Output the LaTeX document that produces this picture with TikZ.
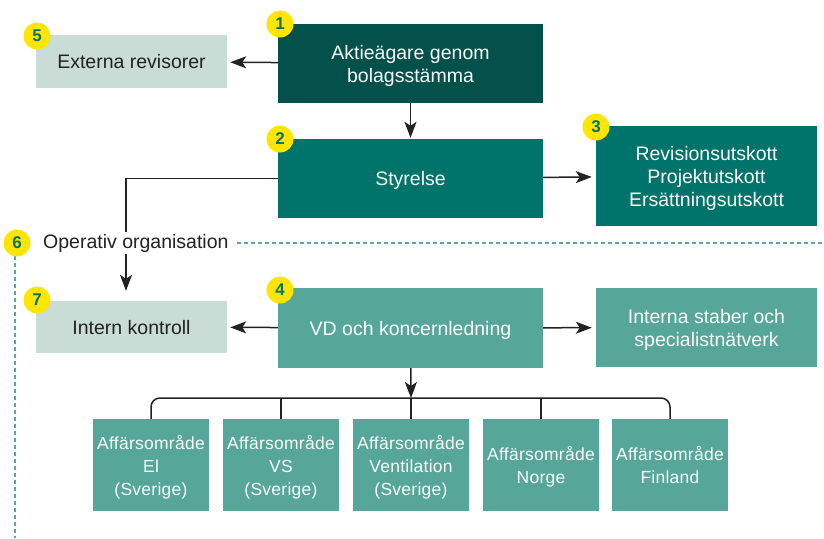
\documentclass[tikz,border=0pt]{standalone}
\usepackage{fontspec}
\setmainfont{Liberation Sans}
\usetikzlibrary{arrows.meta,positioning}
\definecolor{darkgreen}{HTML}{03514A}
\definecolor{midgreen}{HTML}{00736A}
\definecolor{lightgreen}{HTML}{56A69A}
\definecolor{palegreen}{HTML}{C9DDD6}
\definecolor{badgeyellow}{HTML}{FFE500}
\definecolor{dashteal}{HTML}{5AA89C}
\definecolor{inktext}{HTML}{222222}
\colorlet{boxtext}{white!92!palegreen}
\def\bigfont{\fontsize{19.5}{23}\selectfont}
\def\smallfont{\fontsize{17.5}{23}\selectfont\addfontfeature{LetterSpace=1.5}}
\tikzset{box/.style={rectangle, inner sep=0pt, align=center, text=boxtext, font=\bigfont, text depth=-2pt},
	pale/.style={box, fill=palegreen, text=inktext, minimum width=191pt, minimum height=53pt},
	area/.style={box, fill=lightgreen, font=\smallfont, minimum width=116pt, minimum height=92pt},
	badge/.style={circle, fill=badgeyellow, text=midgreen, inner sep=0pt, minimum size=27pt,
		font=\fontsize{17}{17}\selectfont\bfseries},
	link/.style={draw=inktext, line width=1.5pt, -{Stealth[length=16pt, width=12pt, inset=4pt]}},
	bus/.style={draw=inktext, line width=1.5pt},
	border/.style={draw=dashteal, line width=1.3pt, dash pattern=on 4pt off 3pt}}

\begin{document}
\begin{tikzpicture}[x=1pt, y=-1pt]
		\useasboundingbox (0,0) rectangle (824,538);
		% top level
		\node[pale] (ext) at (131.5,61.5) {Externa revisorer};
		\node[box, fill=darkgreen, minimum width=265pt, minimum height=79pt] (aktie) at (410.5,63.5) {Aktieägare genom\\bolagsstämma};
		\node[box, fill=midgreen, minimum width=265pt, minimum height=79pt] (styr) at (410.5,178.5) {Styrelse};
		\node[box, fill=midgreen, minimum width=221pt, minimum height=100pt] (utsk) at (706.5,176) {Revisionsutskott\\Projektutskott\\Ersättningsutskott};
		
		% operative level
		\node[pale, minimum height=52pt] (intern) at (131.5,327) {Intern kontroll};
		\node[box, fill=lightgreen, minimum width=265pt, minimum height=80pt] (vd) at (410.5,328) {VD och koncernledning};
		\node[box, fill=lightgreen, minimum width=221pt, minimum height=79pt] (stab) at (706.5,327.5) {Interna staber och\\specialistnätverk};
		
		\node[area] (el) at (151,465) {Affärsområde\\El\\(Sverige)};
		\node[area] (vs) at (281,465) {Affärsområde\\VS\\(Sverige)};
		\node[area] (vent) at (411,465) {Affärsområde\\Ventilation\\(Sverige)};
		\node[area] (norge) at (541,465) {Affärsområde\\Norge};
		\node[area] (fin) at (670,465) {Affärsområde\\Finland};
		\coordinate (fork) at (411,398);
		
		% connectors
		\draw[link, shorten >=3pt] (aktie) -- (ext);
		\draw[link, shorten >=1pt] (aktie) -- (styr);
		\draw[link, shorten >=4pt] (styr) -- (utsk);
		\draw[link, shorten >=10pt] (styr.west) -| ([xshift=-5.5pt]intern.north);
		\draw[link, shorten >=3pt] (vd) -- (intern);
		\draw[link, shorten >=4pt] (vd) -- (stab);
		\draw[link] (vd) -- (fork);
		\draw[bus, rounded corners=9pt] (el.north) -- (el.north |- fork) -- (fin.north |- fork) -- (fin.north);
		\foreach \n in {vs,vent,norge}
			\draw[bus] (\n.north) -- (\n.north |- fork);
		
		% operative boundary
		\node[fill=white, anchor=west, inner sep=2pt, text=inktext, font=\bigfont] (oper) at (41,243) {Operativ organisation};
		\coordinate (edge) at (824,243);
		\coordinate (top) at (15,256);
		\coordinate (floor) at (15,538);
		\draw[border] ([xshift=6pt]oper.east) -- (edge);
		\draw[border] (top) -- (floor);
		
		% numbers
		\node[badge] (n1) at (280,24) {1};
		\node[badge] (n2) at (280,139) {2};
		\node[badge] (n3) at (596,127) {3};
		\node[badge] (n4) at (280,290) {4};
		\node[badge] (n5) at (37,36) {5};
		\node[badge] (n6) at (17,243) {6};
		\node[badge] (n7) at (37,300) {7};
		\end{tikzpicture}
\end{document}
